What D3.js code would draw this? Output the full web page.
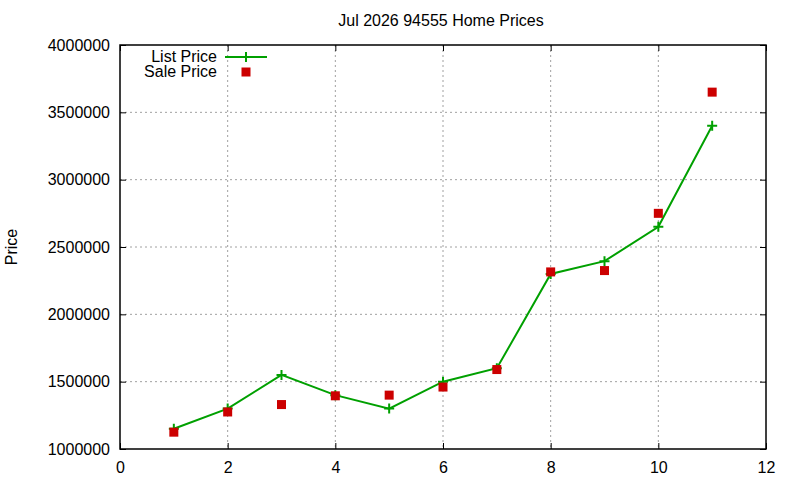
<!DOCTYPE html>
<html>
<head>
<meta charset="utf-8">
<script src="https://cdn.jsdelivr.net/npm/d3@7"></script>
<style>
  body { margin: 0; background: #fff; }
  text { font-family: "Liberation Sans", Arial, sans-serif; fill: #000; }
  .grid line { stroke: #a0a0a0; stroke-width: 1; stroke-dasharray: 2,3; }
</style>
</head>
<body>
<svg width="800" height="480"></svg>
<script>
var months = [1, 2, 3, 4, 5, 6, 7, 8, 9, 10, 11];
var listPrice = [1150000, 1300000, 1550000, 1400000, 1300000, 1500000, 1600000, 2300000, 2395000, 2650000, 3400000];
var salePrice = [1125000, 1275000, 1330000, 1395000, 1400000, 1460000, 1590000, 2315000, 2325000, 2750000, 3650000];
var xTicks = [0, 2, 4, 6, 8, 10, 12];
var yTicks = [1000000, 1500000, 2000000, 2500000, 3000000, 3500000, 4000000];

var svg = d3.select("svg");
var plotL = 120, plotR = 766, plotT = 45, plotB = 449;

var x = d3.scaleLinear().domain([0, 12]).range([plotL, plotR]);
var y = d3.scaleLinear().domain([1000000, 4000000]).range([plotB, plotT]);

// grid
var grid = svg.append("g").attr("class", "grid");
grid.selectAll(".gx").data(xTicks.slice(1, -1)).enter().append("line")
  .attr("x1", d => x(d)).attr("x2", d => x(d))
  .attr("y1", plotT).attr("y2", plotB);
grid.selectAll(".gy").data(yTicks.slice(1, -1)).enter().append("line")
  .attr("x1", plotL).attr("x2", plotR)
  .attr("y1", d => y(d)).attr("y2", d => y(d));

// axes, ticks pointing inward, mirrored
function styleAxis(g) {
  g.select(".domain").remove();
  g.selectAll(".tick line").attr("stroke", "#000");
  g.selectAll(".tick text").style("font-size", "16px").style("font-family", "Liberation Sans, Arial, sans-serif");
}
svg.append("g").attr("transform", "translate(0," + plotB + ")")
  .call(d3.axisBottom(x).tickValues(xTicks).tickSizeInner(-6).tickPadding(13).tickFormat(d3.format("d")))
  .call(styleAxis);
svg.append("g").attr("transform", "translate(0," + plotT + ")")
  .call(d3.axisTop(x).tickValues(xTicks).tickSizeInner(-6).tickFormat(""))
  .call(styleAxis);
svg.append("g").attr("transform", "translate(" + plotL + ",0)")
  .call(d3.axisLeft(y).tickValues(yTicks).tickSizeInner(-6).tickPadding(10).tickFormat(d3.format("d")))
  .call(styleAxis);
svg.append("g").attr("transform", "translate(" + plotR + ",0)")
  .call(d3.axisRight(y).tickValues(yTicks).tickSizeInner(-6).tickFormat(""))
  .call(styleAxis);

svg.append("rect").attr("x", plotL).attr("y", plotT)
  .attr("width", plotR - plotL).attr("height", plotB - plotT)
  .attr("fill", "none").attr("stroke", "#000").attr("stroke-width", 1.5);

// list price line
var green = "#00a000", red = "#cc0000";
svg.append("path")
  .datum(months.map((m, i) => [m, listPrice[i]]))
  .attr("fill", "none").attr("stroke", green).attr("stroke-width", 2)
  .attr("d", d3.line().x(d => x(d[0])).y(d => y(d[1])));

function plus(g, cx, cy) {
  g.append("path").attr("d", "M" + (cx - 5) + "," + cy + "H" + (cx + 5) + "M" + cx + "," + (cy - 5) + "V" + (cy + 5))
    .attr("stroke", green).attr("stroke-width", 2);
}
months.forEach((m, i) => plus(svg, x(m), y(listPrice[i])));

svg.selectAll(".sale").data(months).enter().append("rect")
  .attr("x", d => x(d) - 4.5).attr("y", (d, i) => y(salePrice[i]) - 4.5)
  .attr("width", 9).attr("height", 9).attr("fill", red);

// legend
svg.append("text").attr("x", 217).attr("y", 62).attr("text-anchor", "end")
  .style("font-size", "16px").text("List Price");
svg.append("line").attr("x1", 225).attr("x2", 267).attr("y1", 57).attr("y2", 57)
  .attr("stroke", green).attr("stroke-width", 2);
plus(svg, 246, 57);
svg.append("text").attr("x", 217).attr("y", 77).attr("text-anchor", "end")
  .style("font-size", "16px").text("Sale Price");
svg.append("rect").attr("x", 241.5).attr("y", 67.5).attr("width", 9).attr("height", 9).attr("fill", red);

// title and y label
svg.append("text").attr("x", 441).attr("y", 26).attr("text-anchor", "middle")
  .style("font-size", "16px").text("Jul 2026 94555 Home Prices");
svg.append("text").attr("transform", "translate(17,247) rotate(-90)").attr("text-anchor", "middle")
  .style("font-size", "16px").text("Price");
</script>
</body>
</html>
